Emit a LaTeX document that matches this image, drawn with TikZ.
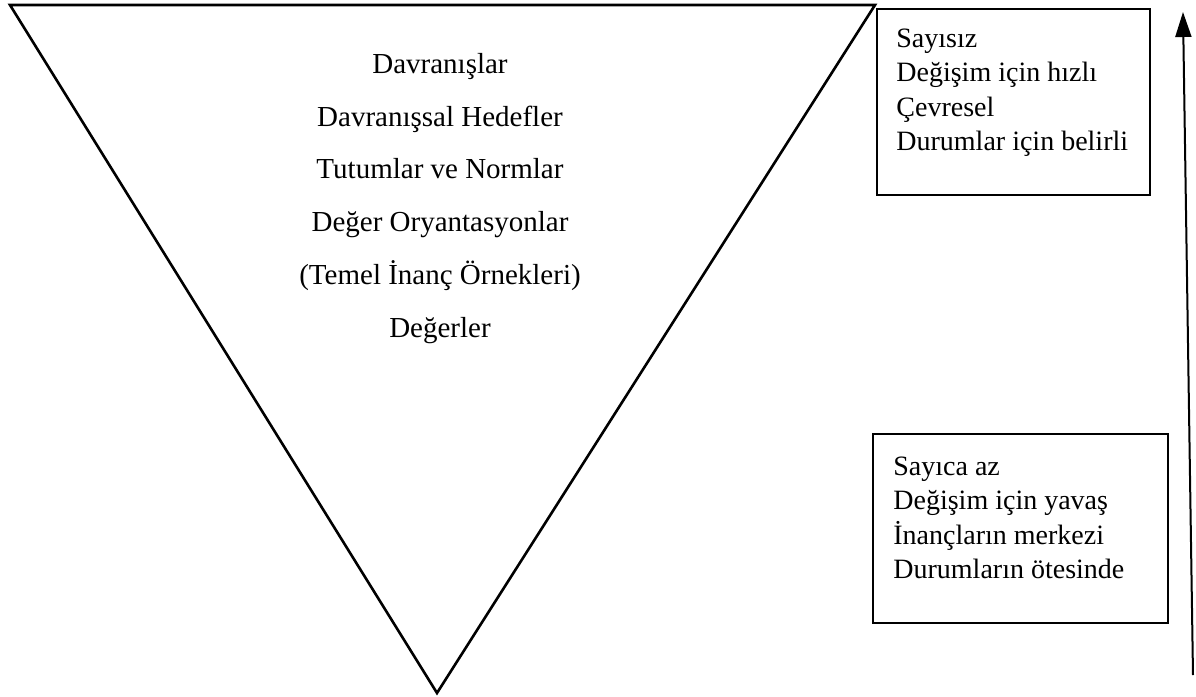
\documentclass[tikz,border=0pt]{standalone}
\usepackage{fontspec}
\setmainfont{Liberation Serif}
\usetikzlibrary{arrows.meta}
\begin{document}
\begin{tikzpicture}[x=0.5pt,y=-0.5pt,
  mainlbl/.style={anchor=base, inner sep=0pt, font=\fontsize{14.5pt}{17pt}\selectfont},
  boxlbl/.style={anchor=base west, inner sep=0pt, font=\fontsize{14pt}{17pt}\selectfont},
  infobox/.style={draw, line width=1.1pt, anchor=north west, inner sep=0pt},
  tri/.style={draw, line width=1.3pt, line join=miter},
  arr/.style={line width=1pt, -{Triangle[length=12.5pt,width=8pt]}}]
\useasboundingbox (0,0) rectangle (1196,697);
% triangle
\coordinate (tl) at (10,5);
\coordinate (tr) at (875,5);
\coordinate (bt) at (437,693);
\draw[tri] (tl) -- (tr) -- (bt) -- cycle;
% triangle labels
\node[mainlbl] (l1) at (440,73) {Davranışlar};
\node[mainlbl] (l2) at (440,126) {Davranışsal Hedefler};
\node[mainlbl] (l3) at (440,178.5) {Tutumlar ve Normlar};
\node[mainlbl] (l4) at (440,231.5) {Değer Oryantasyonlar};
\node[mainlbl] (l5) at (440,284) {(Temel İnanç Örnekleri)};
\node[mainlbl] (l6) at (440,337) {Değerler};
% top box
\node[infobox, minimum width=136.5pt, minimum height=93pt] (topbox) at (876,8) {};
\node[boxlbl] (t1) at (896,47) {Sayısız};
\node[boxlbl] (t2) at (896,81.5) {Değişim için hızlı};
\node[boxlbl] (t3) at (896,116) {Çevresel};
\node[boxlbl] (t4) at (896,150.5) {Durumlar için belirli};
% bottom box
\node[infobox, minimum width=147.5pt, minimum height=94.5pt] (botbox) at (872,433) {};
\node[boxlbl] (b1) at (893,475) {Sayıca az};
\node[boxlbl] (b2) at (893,509.5) {Değişim için yavaş};
\node[boxlbl] (b3) at (893,544) {İnançların merkezi};
\node[boxlbl] (b4) at (893,578.5) {Durumların ötesinde};
% arrow
\coordinate (a0) at (1193,675);
\coordinate (a1) at (1183,12);
\draw[arr] (a0) -- (a1);
\end{tikzpicture}
\end{document}
